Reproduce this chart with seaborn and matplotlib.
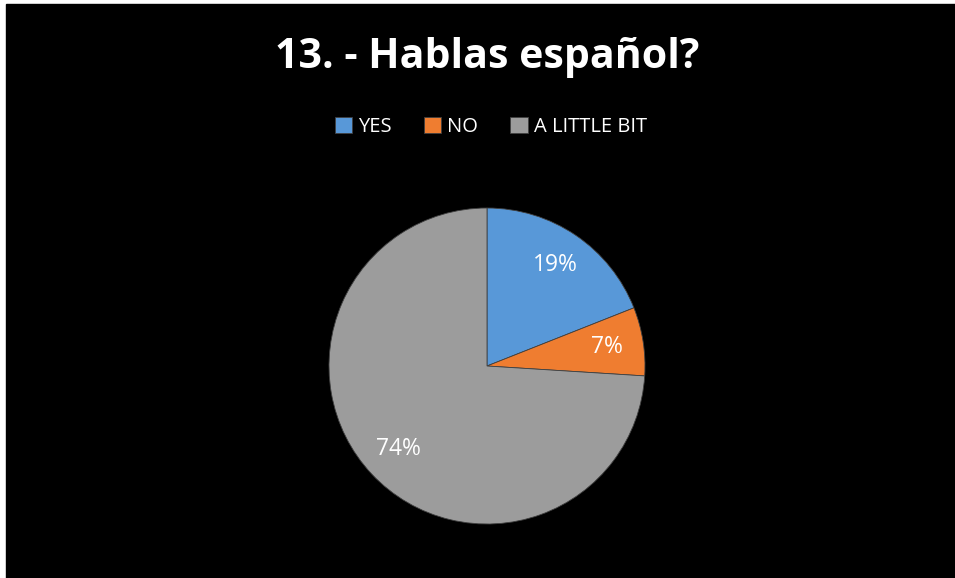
import matplotlib
matplotlib.use('Agg')
import matplotlib.pyplot as plt
import seaborn as sns

# 資料
categories = ['YES', 'NO', 'A LITTLE BIT']
shares = [19, 7, 74]
slice_colors = ['#5898d8', '#ef7d30', '#9c9c9c']

sns.set_style('white')
plt.rcParams['font.family'] = ['Open Sans', 'DejaVu Sans']

fig = plt.figure(figsize=(9.55, 5.78), dpi=100, facecolor='white')
# 黑色背景 (左邊和上面留一點白邊)
fig.patches.append(plt.Rectangle((6 / 955, -0.1), 1.2, 1.1 - 4 / 578,
                                 transform=fig.transFigure, color='black', zorder=-5))

cx, cy, r = 487, 366, 158
ax = fig.add_axes([(cx - r) / 955, (578 - cy - r) / 578, 2 * r / 955, 2 * r / 578])
ax.set_facecolor('none')

palette = sns.color_palette(slice_colors)
wedges, texts, autotexts = ax.pie(
    shares, colors=palette, startangle=90, counterclock=False,
    autopct='%d%%', pctdistance=0.77,
    wedgeprops=dict(edgecolor='#404040', linewidth=0.6),
    textprops=dict(color='white', fontsize=16.5),
)
ax.set_xlim(-1, 1)
ax.set_ylim(-1, 1)
ax.set_aspect('equal')
ax.axis('off')

fig.text(487 / 955, 1 - 57 / 578, '13. - Hablas español?', color='white',
         fontsize=29.5, fontweight='bold', ha='center', va='center')

fig.legend(wedges, categories, loc='center', bbox_to_anchor=(491 / 955, 1 - 127 / 578),
           ncol=3, frameon=False, fontsize=14.5, labelcolor='white',
           handlelength=0.85, handleheight=0.85, handletextpad=0.3, columnspacing=1.6)

fig.savefig('out.png', dpi=100, facecolor=fig.get_facecolor())
